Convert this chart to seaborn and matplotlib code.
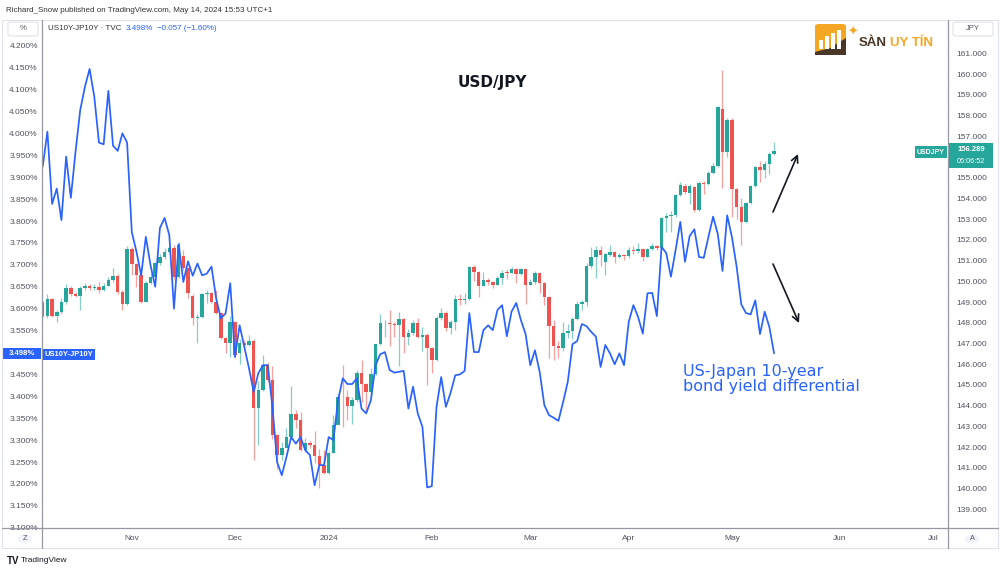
import numpy as np
import pandas as pd
import matplotlib
matplotlib.use("Agg")
import matplotlib.pyplot as plt
import seaborn as sns
from matplotlib.patches import Rectangle, FancyBboxPatch, Circle, Polygon
from matplotlib.lines import Line2D

# ---------------- data ----------------
yield_diff = [
    3.924, 4.004, 3.839, 3.874, 3.802, 3.947, 3.853, 3.958, 4.053, 4.106,
    4.147, 4.084, 3.979, 3.975, 4.097, 3.972, 3.960, 4.000, 3.979, 3.775,
    3.730, 3.676, 3.764, 3.699, 3.650, 3.784, 3.807, 3.768, 3.600, 3.747,
    3.661, 3.708, 3.675, 3.703, 3.676, 3.680, 3.696, 3.623, 3.578, 3.589,
    3.658, 3.490, 3.562, 3.513, 3.464, 3.410, 3.453, 3.471, 3.471, 3.376,
    3.250, 3.220, 3.262, 3.307, 3.292, 3.307, 3.277, 3.266, 3.197, 3.243,
    3.243, 3.307, 3.300, 3.391, 3.441, 3.428, 3.428, 3.441, 3.372, 3.361,
    3.391, 3.471, 3.496, 3.501, 3.460, 3.454, 3.456, 3.458, 3.372, 3.422,
    3.361, 3.330, 3.192, 3.195, 3.376, 3.444, 3.376, 3.408, 3.448, 3.450,
    3.458, 3.590, 3.501, 3.501, 3.551, 3.562, 3.551, 3.597, 3.608, 3.537,
    3.593, 3.613, 3.574, 3.542, 3.471, 3.505, 3.456, 3.380, 3.357, 3.351,
    3.344, 3.387, 3.433, 3.519, 3.526, 3.565, 3.560, 3.547, 3.536, 3.467,
    3.517, 3.498, 3.473, 3.498, 3.471, 3.570, 3.608, 3.581, 3.543, 3.635,
    3.636, 3.583, 3.741, 3.727, 3.673, 3.734, 3.798, 3.707, 3.766, 3.781,
    3.718, 3.716, 3.764, 3.810, 3.770, 3.686, 3.813, 3.764, 3.697, 3.610,
    3.590, 3.587, 3.619, 3.542, 3.593, 3.558, 3.498,
]

usdjpy_open = [
    148.94, 148.34, 149.15, 148.34, 148.53, 149.02, 149.66, 149.37, 149.30, 149.66,
    149.79, 149.66, 149.72, 149.60, 149.79, 150.06, 150.26, 149.50, 148.89, 151.56,
    150.82, 150.31, 149.02, 149.90, 150.23, 150.87, 151.19, 151.40, 151.59, 150.23,
    151.24, 150.63, 149.30, 148.22, 148.30, 149.37, 149.45, 149.02, 148.46, 147.28,
    147.01, 148.05, 146.56, 147.01, 146.95, 147.12, 143.87, 144.76, 145.96, 145.24,
    142.59, 141.62, 141.95, 142.51, 143.60, 143.31, 141.86, 142.22, 142.10, 141.57,
    141.14, 140.77, 141.74, 143.08, 144.41, 144.40, 143.99, 144.28, 145.59, 145.07,
    144.67, 145.52, 146.98, 147.97, 147.97, 147.95, 147.90, 148.17, 147.33, 147.49,
    147.97, 147.33, 147.40, 146.77, 146.21, 148.22, 148.49, 147.73, 148.05, 149.13,
    149.10, 149.17, 150.68, 150.47, 149.77, 150.06, 149.98, 149.82, 150.17, 150.41,
    150.40, 150.58, 150.35, 150.58, 149.82, 149.98, 150.41, 149.90, 149.26, 147.85,
    146.88, 146.77, 147.49, 147.62, 148.17, 148.91, 149.00, 150.74, 151.16, 151.51,
    150.95, 151.27, 151.43, 151.19, 151.25, 151.20, 151.51, 151.45, 151.54, 151.19,
    151.54, 151.70, 151.62, 153.04, 153.15, 153.20, 154.16, 154.60, 154.28, 154.56,
    153.46, 154.76, 154.70, 155.24, 155.56, 158.30, 156.25, 157.78, 154.44, 153.60,
    152.88, 153.79, 154.60, 155.50, 155.37, 155.68, 156.14,
]
usdjpy_close = [
    148.34, 149.15, 148.34, 148.53, 149.02, 149.66, 149.37, 149.30, 149.66, 149.79,
    149.66, 149.72, 149.60, 149.79, 150.06, 150.26, 149.50, 148.89, 151.56, 150.82,
    150.31, 149.02, 149.90, 150.23, 150.87, 151.19, 151.40, 151.59, 150.23, 151.75,
    150.63, 149.42, 148.22, 148.30, 149.37, 149.45, 149.02, 148.46, 147.28, 147.01,
    148.05, 146.45, 147.01, 146.95, 147.12, 143.87, 144.76, 145.96, 145.24, 142.59,
    141.62, 141.95, 142.51, 143.60, 143.31, 141.86, 142.22, 142.10, 141.57, 141.14,
    140.77, 141.74, 143.08, 144.41, 144.40, 143.99, 144.28, 145.59, 145.07, 144.67,
    145.52, 146.98, 147.97, 147.97, 147.95, 147.90, 148.17, 147.33, 147.49, 147.97,
    147.33, 147.40, 146.77, 146.21, 148.22, 148.49, 147.73, 148.05, 149.13, 149.10,
    149.17, 150.68, 150.47, 149.77, 150.06, 149.98, 149.82, 150.17, 150.41, 150.40,
    150.58, 150.35, 150.58, 149.82, 149.98, 150.41, 149.90, 149.26, 147.85, 146.88,
    146.77, 147.49, 147.62, 148.17, 148.91, 149.00, 150.74, 151.16, 151.51, 151.27,
    151.30, 151.43, 151.19, 151.25, 151.20, 151.51, 151.45, 151.54, 151.19, 151.54,
    151.70, 151.62, 153.04, 153.15, 153.20, 154.16, 154.65, 154.32, 154.60, 153.46,
    154.76, 154.70, 155.24, 155.56, 158.42, 156.25, 157.78, 154.44, 153.60, 152.88,
    153.79, 154.60, 155.50, 155.37, 155.68, 156.14, 156.29,
]
usdjpy_high = [
    149.05, 149.37, 149.20, 148.60, 149.18, 149.85, 149.75, 149.50, 149.75, 149.90,
    149.85, 149.85, 149.95, 149.90, 150.20, 150.63, 150.35, 149.60, 151.70, 151.65,
    150.90, 150.40, 150.00, 150.40, 150.95, 151.30, 151.60, 151.72, 151.75, 151.90,
    151.50, 150.70, 149.40, 148.40, 149.45, 149.60, 149.50, 149.60, 148.50, 147.30,
    148.35, 148.10, 147.20, 147.15, 147.40, 147.20, 145.20, 146.45, 146.10, 145.90,
    142.65, 142.25, 142.90, 144.95, 143.80, 143.70, 142.45, 142.30, 142.80, 141.90,
    141.85, 141.80, 143.55, 144.55, 145.95, 144.75, 144.40, 145.70, 146.22, 145.10,
    145.80, 147.00, 148.40, 148.15, 148.60, 148.05, 148.50, 148.25, 147.70, 148.15,
    148.25, 147.80, 147.50, 146.85, 148.35, 148.70, 148.55, 148.15, 149.35, 149.40,
    149.45, 150.75, 150.80, 150.50, 150.45, 150.15, 150.00, 150.25, 150.55, 150.60,
    150.70, 150.65, 150.65, 150.60, 150.10, 150.50, 150.45, 149.95, 149.30, 148.15,
    147.10, 148.05, 147.95, 148.30, 149.05, 149.10, 150.90, 151.67, 151.70, 151.70,
    151.35, 151.75, 151.45, 151.35, 151.28, 151.65, 151.70, 151.85, 151.60, 151.60,
    151.85, 151.75, 153.10, 153.30, 153.40, 154.20, 154.80, 154.70, 154.68, 154.62,
    154.85, 154.86, 155.30, 155.70, 158.45, 160.19, 157.87, 157.90, 154.50, 154.00,
    153.85, 154.65, 155.58, 155.80, 155.80, 156.22, 156.74,
]
usdjpy_low = [
    148.30, 148.22, 148.28, 148.05, 148.40, 148.90, 149.30, 149.25, 148.62, 149.60,
    149.60, 149.60, 149.45, 149.55, 149.75, 149.95, 149.40, 148.62, 148.85, 150.30,
    149.74, 148.95, 149.00, 149.85, 150.15, 150.80, 151.10, 151.35, 150.10, 150.15,
    150.55, 149.20, 147.90, 147.01, 148.25, 148.95, 148.95, 148.40, 147.20, 146.53,
    146.35, 146.30, 146.00, 146.85, 146.90, 141.38, 142.10, 144.70, 145.15, 142.40,
    140.95, 141.40, 142.35, 143.50, 142.90, 141.80, 141.75, 141.95, 141.25, 140.02,
    140.70, 140.70, 141.70, 143.40, 142.95, 143.30, 143.10, 144.20, 144.20, 143.70,
    144.50, 145.50, 146.95, 147.30, 146.90, 147.30, 145.90, 146.55, 146.95, 147.40,
    147.25, 146.65, 145.00, 145.60, 146.15, 148.15, 147.60, 147.47, 147.65, 148.88,
    148.90, 149.10, 150.00, 149.25, 149.75, 149.80, 149.66, 149.80, 149.85, 150.10,
    150.40, 149.90, 150.30, 148.90, 149.80, 149.85, 149.45, 148.85, 146.30, 146.20,
    146.30, 146.65, 147.25, 147.20, 148.15, 148.60, 148.80, 150.65, 150.15, 150.76,
    150.30, 151.20, 150.90, 151.12, 151.05, 151.13, 151.30, 151.35, 150.98, 151.15,
    151.50, 151.50, 151.55, 152.40, 152.40, 153.10, 154.10, 154.20, 153.75, 153.35,
    153.40, 154.20, 154.65, 155.20, 155.50, 154.49, 156.00, 153.12, 153.00, 151.75,
    152.80, 153.75, 154.55, 154.80, 155.00, 155.20, 156.10,
]

month_ticks = [19, 41, 61, 83, 104, 125, 147, 170, 190]
month_labels = ["Nov", "Dec", "2024", "Feb", "Mar", "Apr", "May", "Jun", "Jul"]
# 3.500% and 156.000 sit behind the last-value tags in the reference
pct_ticks = [3.10, 3.15, 3.20, 3.25, 3.30, 3.35, 3.40, 3.45, 3.55, 3.60, 3.65,
             3.70, 3.75, 3.80, 3.85, 3.90, 3.95, 4.00, 4.05, 4.10, 4.15, 4.20]
jpy_ticks = [139, 140, 141, 142, 143, 144, 145, 146, 147, 148, 149, 150, 151, 152,
             153, 154, 155, 157, 158, 159, 160, 161]

# ---------------- style ----------------
sns.set_theme(style="white")
plt.rcParams["font.family"] = ["Liberation Sans", "DejaVu Sans"]

GREEN = "#26a69a"
RED = "#ef5350"
BLUE = "#2962ff"
GRAY = "#50535e"
LINE = "#9598a1"
SMALL = 6.0

W, H = 1000, 572
fig = plt.figure(figsize=(10, 5.72), dpi=100)
fig.patch.set_facecolor("white")


def fx(x):
    return x / W


def fy(y):
    return 1 - y / H


ax = fig.add_axes([fx(42), fy(528), fx(948) - fx(42), fy(20) - fy(528)])
ax2 = ax.twinx()

bars = np.arange(len(usdjpy_close))
df = pd.DataFrame({"bar": np.arange(len(yield_diff)), "yield": yield_diff})

# candles on right axis
o = np.array(usdjpy_open)
c = np.array(usdjpy_close)
hi = np.array(usdjpy_high)
lo = np.array(usdjpy_low)
up = c >= o
cols = np.where(up, GREEN, RED)
ax2.vlines(bars, lo, hi, colors=cols, linewidth=0.9, alpha=0.55, zorder=2)
body_h = np.where(np.abs(c - o) < 0.04, 0.04, np.abs(c - o))
body_b = np.minimum(o, c)
ax2.bar(bars, body_h, bottom=body_b, width=0.74, color=cols, linewidth=0, zorder=3)

# yield differential line on left axis
sns.lineplot(data=df, x="bar", y="yield", ax=ax, color=BLUE, linewidth=1.25, zorder=5)

ax.set_zorder(ax2.get_zorder() + 1)
ax.patch.set_visible(False)

ax.set_xlim(-0.15, 193.1)
ax.set_ylim(3.0995, 4.2587)
ax2.set_ylim(138.100, 162.606)

ax.set_xlabel("")
ax.set_ylabel("")
ax2.set_ylabel("")
ax.set_yticks(pct_ticks)
ax.set_yticklabels([f"{v:.3f}%" for v in pct_ticks])
ax2.set_yticks(jpy_ticks)
ax2.set_yticklabels([f"{v:.3f}" for v in jpy_ticks])
ax.set_xticks(month_ticks)
ax.set_xticklabels(month_labels)

ax.tick_params(axis="y", length=0, pad=3, labelsize=SMALL, labelcolor=GRAY)
ax2.tick_params(axis="y", length=0, pad=6, labelsize=SMALL, labelcolor=GRAY)
ax.tick_params(axis="x", length=0, pad=5, labelsize=SMALL, labelcolor=GRAY)
ax.grid(False)
ax2.grid(False)

for a in (ax, ax2):
    for s in a.spines.values():
        s.set_visible(False)


# frame lines
def fline(x0, y0, x1, y1, color=LINE, lw=0.9):
    fig.add_artist(Line2D([fx(x0), fx(x1)], [fy(y0), fy(y1)], color=color, lw=lw,
                          transform=fig.transFigure))


fline(2, 20, 998, 20, color="#e0e3eb", lw=0.8)
fline(2, 548, 998, 548, color="#e0e3eb", lw=0.8)
fline(2, 20, 2, 548, color="#e0e3eb", lw=0.8)
fline(998, 20, 998, 548, color="#e0e3eb", lw=0.8)
fline(2, 528, 998, 528)
fline(42, 20, 42, 548)
fline(948, 20, 948, 548)


def chain(prev, text, color, gap=3, **kw):
    return ax.annotate(text, xy=(1, 0.5), xycoords=prev, xytext=(gap, 0),
                       textcoords="offset points", va="center", ha="left", color=color,
                       annotation_clip=False, **kw)


# header texts
fig.text(fx(6), fy(10), "Richard_Snow published on TradingView.com, May 14, 2024 15:53 UTC+1",
         fontsize=5.8, color="#333333", va="center", ha="left")
t1 = fig.text(fx(48), fy(28), "US10Y-JP10Y · TVC", fontsize=5.8, color="#333333", va="center")
t2 = chain(t1, "3.498%", BLUE, gap=3, fontsize=5.8)
t3 = chain(t2, "\u22120.057 (\u22121.60%)", BLUE, gap=2.5, fontsize=5.8)

# unit boxes
for (x0, x1, t) in [(8, 38, "%"), (953, 993, "JPY")]:
    fig.add_artist(FancyBboxPatch((fx(x0), fy(36)), fx(x1) - fx(x0), fy(22) - fy(36),
                                  boxstyle="round,pad=0,rounding_size=0.003",
                                  transform=fig.transFigure, facecolor="white",
                                  edgecolor="#e0e3eb", lw=0.8))
    fig.text(fx((x0 + x1) / 2), fy(29), t, fontsize=5.5, color=GRAY, ha="center", va="center")

# title
fig.text(fx(492), fy(83), "USD/JPY", fontsize=11, fontweight="bold", color="#131722",
         ha="center", va="center", family=["DejaVu Sans"])

# annotation
fig.text(fx(683), fy(379), "US-Japan 10-year\nbond yield differential", fontsize=11.5,
         color=BLUE, ha="left", va="center", linespacing=1.05, family=["DejaVu Sans"])

# arrows
for (x0, y0, x1, y1) in [(773, 212, 798, 154), (773, 264, 799, 323)]:
    ax.annotate("", xy=(fx(x1), fy(y1)), xytext=(fx(x0), fy(y0)),
                xycoords="figure fraction", textcoords="figure fraction",
                arrowprops=dict(arrowstyle="->", color="#131722", lw=1.2,
                                mutation_scale=12, shrinkA=0, shrinkB=0))


# price tags
def box(x0, x1, y0, y1, color):
    fig.add_artist(Rectangle((fx(x0), fy(y1)), fx(x1) - fx(x0), fy(y0) - fy(y1),
                             transform=fig.transFigure, facecolor=color, edgecolor="none"))


def label(x, y, text, fs=5.6, bold=True):
    fig.text(fx(x), fy(y), text, fontsize=fs, color="white", ha="center", va="center",
             fontweight="bold" if bold else "normal")


box(2, 41, 348, 359, BLUE)
label(21.5, 353.5, "3.498%")
box(43, 95, 349, 360, BLUE)
label(69, 354.5, "US10Y-JP10Y", fs=5.4)
box(915, 947, 146, 158, GREEN)
label(931, 152, "USDJPY", fs=5.0)
box(949, 993, 143, 168, GREEN)
label(971, 149.5, "156.289", fs=5.5)
label(971, 161.5, "06:06:52", fs=5.2, bold=False)

# bottom row
for (x, t) in [(25, "Z"), (972, "A")]:
    fig.add_artist(Circle((fx(x), fy(539)), 0.0075, transform=fig.transFigure,
                          facecolor="#f0f3fa", edgecolor="none"))
    fig.text(fx(x), fy(539), t, fontsize=5.3, color=GRAY, ha="center", va="center")

fig.text(fx(7), fy(561), "TV", fontsize=7, fontweight="bold", color="#131722", va="center")
fig.text(fx(21), fy(561), "TradingView", fontsize=6.0, color="#131722", va="center")

# logo
fig.add_artist(FancyBboxPatch((fx(815), fy(55)), fx(846) - fx(815), fy(24) - fy(55),
                              boxstyle="round,pad=0,rounding_size=0.004",
                              transform=fig.transFigure, facecolor="#f5a623", edgecolor="none"))
fig.add_artist(Polygon([(fx(815), fy(55)), (fx(846), fy(55)), (fx(846), fy(38)),
                        (fx(830), fy(48)), (fx(815), fy(52))], closed=True,
                       transform=fig.transFigure, facecolor="#4a3728", edgecolor="none"))
for (bx, top) in [(819, 40), (825, 36), (831, 33), (837, 30)]:
    fig.add_artist(Rectangle((fx(bx), fy(49)), fx(4) - fx(0), fy(top) - fy(49),
                             transform=fig.transFigure, facecolor="white", edgecolor="none"))
fig.text(fx(853), fy(32), "\u2726", fontsize=9, color="#f5a623", ha="center", va="center",
         family=["DejaVu Sans"])
s1 = fig.text(fx(859), fy(43), "SÀN", fontsize=9.5, fontweight="bold", color="#4a3728",
              ha="left", va="center")
chain(s1, "UY TÍN", "#f5a623", gap=2.5, fontsize=9.5, fontweight="bold")

fig.savefig("out.png", dpi=100, facecolor="white")
